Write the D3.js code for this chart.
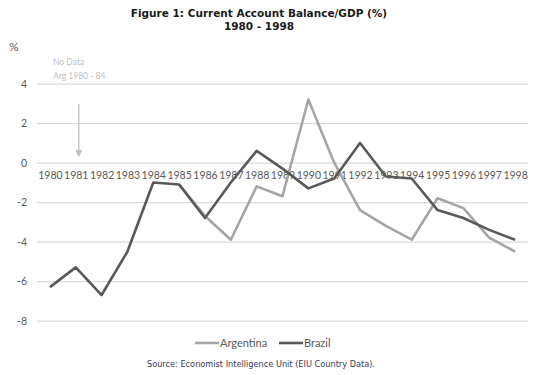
<!DOCTYPE html>
<html>
<head>
<meta charset="utf-8">
<script src="https://cdn.jsdelivr.net/npm/d3@7"></script>
<style>
  body { margin: 0; background: #fff; }
  svg { display: block; }
  .grid line { stroke: #d9d9d9; stroke-width: 1.2; }
  .grid path { display: none; }
  .tick text { fill: #595959; font-family: Lato, "Open Sans", sans-serif; font-size: 10.5px; }
</style>
</head>
<body>
<div id="wrapper"></div>
<script>
// data
const years = [1980, 1981, 1982, 1983, 1984, 1985, 1986, 1987, 1988, 1989,
  1990, 1991, 1992, 1993, 1994, 1995, 1996, 1997, 1998];
const brazil = [-6.3, -5.3, -6.7, -4.5, -1.0, -1.1, -2.8, -1.0, 0.6, -0.3,
  -1.3, -0.8, 1.0, -0.7, -0.8, -2.4, -2.8, -3.4, -3.9];
// no data for Argentina 1980 - 84
const argentina = [null, null, null, null, null, -1.1, -2.7, -3.9, -1.2, -1.7,
  3.2, 0.0, -2.4, -3.2, -3.9, -1.8, -2.3, -3.8, -4.5];
const yTicks = [-8, -6, -4, -2, 0, 2, 4];
const titleLines = ["Figure 1: Current Account Balance/GDP (%)", "1980 - 1998"];
const sourceText = "Source: Economist Intelligence Unit (EIU Country Data).";

// dimensions
const dimensions = {
  width: 540,
  height: 375,
  margin: { top: 83.7, right: 12, bottom: 54.3, left: 37 }
};
dimensions.boundedWidth = dimensions.width - dimensions.margin.left - dimensions.margin.right;
dimensions.boundedHeight = dimensions.height - dimensions.margin.top - dimensions.margin.bottom;

const svg = d3.select("#wrapper")
  .append("svg")
  .attr("width", dimensions.width)
  .attr("height", dimensions.height);

const bounds = svg.append("g")
  .attr("transform", `translate(${dimensions.margin.left},${dimensions.margin.top})`);

// scales
const xScale = d3.scalePoint()
  .domain(years)
  .range([0, dimensions.boundedWidth])
  .padding(0.5);

const yScale = d3.scaleLinear()
  .domain([-8, 4])
  .range([dimensions.boundedHeight, 0]);

// gridlines + y labels (plain hyphen for negatives, like the original)
const yAxis = bounds.append("g")
  .attr("class", "grid")
  .call(d3.axisLeft(yScale)
    .tickValues(yTicks)
    .tickFormat(d => String(d))
    .tickSize(-dimensions.boundedWidth)
    .tickPadding(10));

// year labels sit on the zero line
const xAxis = bounds.append("g")
  .attr("class", "grid")
  .attr("transform", `translate(0,${yScale(0)})`)
  .call(d3.axisBottom(xScale).tickSize(0).tickPadding(9));

// lines
const lineGen = series => d3.line()
  .defined(d => d != null)
  .x((d, i) => xScale(years[i]))
  .y(d => yScale(d))(series);

bounds.append("path")
  .attr("d", lineGen(argentina))
  .attr("fill", "none")
  .attr("stroke", "#a5a5a5")
  .attr("stroke-width", 2.6)
  .attr("stroke-linejoin", "round");

bounds.append("path")
  .attr("d", lineGen(brazil))
  .attr("fill", "none")
  .attr("stroke", "#595959")
  .attr("stroke-width", 2.6)
  .attr("stroke-linejoin", "round");

// title
svg.append("text")
  .attr("y", 17)
  .attr("text-anchor", "middle")
  .style("font-family", "'DejaVu Sans', sans-serif")
  .style("font-weight", "bold")
  .style("font-size", "10.5px")
  .style("fill", "#1a1a1a")
  .selectAll("tspan")
  .data(titleLines)
  .join("tspan")
  .attr("x", 259)
  .attr("dy", (d, i) => i === 0 ? 0 : 13)
  .text(d => d);

svg.append("text")
  .attr("x", 9).attr("y", 51)
  .style("font-family", "Lato, sans-serif")
  .style("font-size", "12px")
  .style("fill", "#595959")
  .text("%");

// no data note + arrow
const note = svg.append("text")
  .style("font-family", "Lato, sans-serif")
  .style("font-size", "8.5px")
  .style("fill", "#bfbfbf");
note.append("tspan").attr("x", 53).attr("y", 65).text("No Data");
note.append("tspan").attr("x", 53).attr("y", 79).text("Arg 1980 - 84");

const arrowX = dimensions.margin.left + xScale(1981) + 3;
svg.append("line")
  .attr("x1", arrowX).attr("x2", arrowX)
  .attr("y1", 104).attr("y2", 153)
  .attr("stroke", "#bfbfbf")
  .attr("stroke-width", 1.3);
svg.append("path")
  .attr("d", `M${arrowX - 3.5},${150} L${arrowX + 3.5},${150} L${arrowX},${157} Z`)
  .attr("fill", "#bfbfbf");

// legend
const legend = svg.append("g").attr("transform", "translate(0,343)");
const legendItems = [
  { name: "Argentina", color: "#a5a5a5", x: 195 },
  { name: "Brazil", color: "#595959", x: 279 }
];
legendItems.forEach(item => {
  legend.append("line")
    .attr("x1", item.x).attr("x2", item.x + 24)
    .attr("y1", 0).attr("y2", 0)
    .attr("stroke", item.color)
    .attr("stroke-width", 2.6);
  legend.append("text")
    .attr("x", item.x + 25).attr("y", 4)
    .style("font-family", "Lato, sans-serif")
    .style("font-size", "11px")
    .style("fill", "#595959")
    .text(item.name);
});

// source
svg.append("text")
  .attr("x", 261).attr("y", 367)
  .attr("text-anchor", "middle")
  .style("font-family", "'DejaVu Sans', sans-serif")
  .style("font-size", "8.2px")
  .style("fill", "#3a3a5a")
  .text(sourceText);
</script>
</body>
</html>
